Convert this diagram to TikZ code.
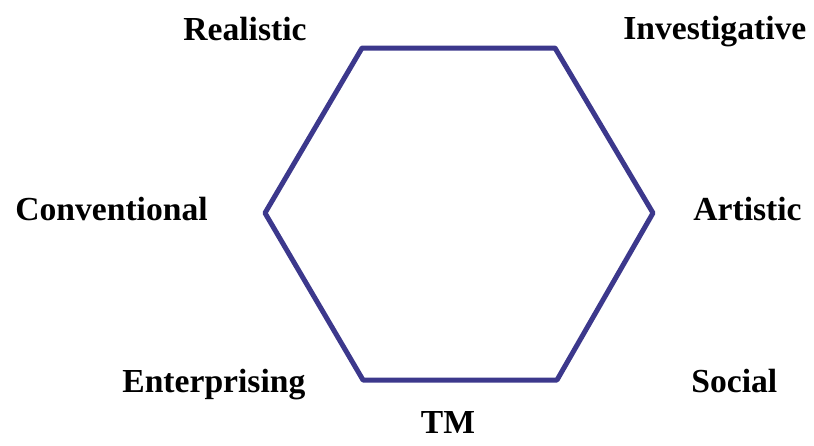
\documentclass[tikz,border=0pt]{standalone}
\usepackage{fontspec}
\setmainfont{Liberation Serif}
\usepackage{xcolor}
\usepackage{tikz}
\usetikzlibrary{positioning,calc}
\definecolor{hexblue}{RGB}{60,56,140}

\begin{document}
\begin{tikzpicture}[x=0.5pt,y=-0.5pt,line join=round,line cap=round,
  typelbl/.style={font=\fontsize{16.8}{18}\selectfont\bfseries,anchor=base west,inner sep=0pt}]
  \useasboundingbox (0,0) rectangle (814,445);
  \coordinate (R) at (362,48);\coordinate (I) at (555,48);\coordinate (A) at (653,213);
  \coordinate (S) at (557,380);\coordinate (E) at (363,380);\coordinate (C) at (265,213);
  \draw[hexblue,line width=2.5pt] (R)--(I)--(A)--(S)--(E)--(C)--cycle;
  \foreach \n/\x/\y/\t in {lR/183/40/Realistic,lI/623/39/Investigative,lC/15/220/Conventional,
    lA/693/220/Artistic,lE/122/392/Enterprising,lS/691/392/Social}{\node[typelbl] (\n) at (\x,\y) {\t};}
  \node[typelbl,anchor=base] (tm) at (448,433) {TM};
\end{tikzpicture}
\end{document}
